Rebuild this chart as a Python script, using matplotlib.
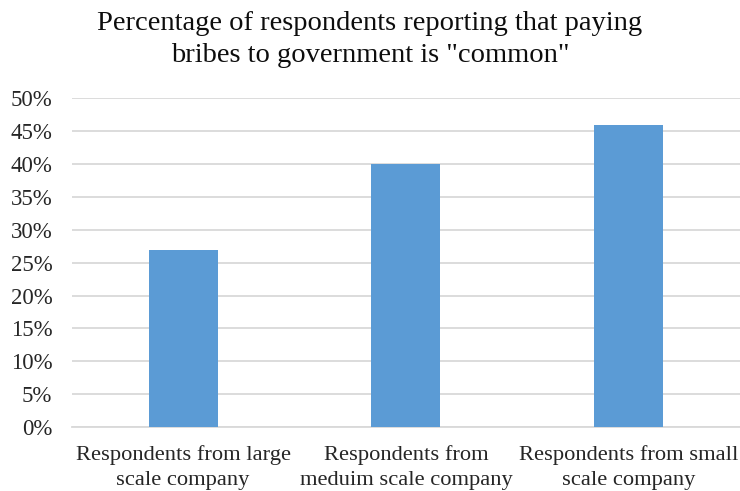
import matplotlib
matplotlib.use('Agg')
import matplotlib.pyplot as plt
from matplotlib.ticker import FuncFormatter, MultipleLocator

# 数据
categories = ['Respondents from large\nscale company',
              'Respondents from\nmeduim scale company',
              'Respondents from small\nscale company']
values = [0.27, 0.40, 0.46]
title = 'Percentage of respondents reporting that paying\nbribes to government is "common"'

plt.rcParams['font.family'] = ['Liberation Serif', 'DejaVu Serif']

fig = plt.figure(figsize=(7.4, 4.91), dpi=100)
ax = fig.add_axes([0.097, 0.130, 0.903, 0.670])

x = range(len(categories))
ax.bar(x, values, width=0.31, color='#5B9BD5', zorder=3)

ax.set_xlim(-0.5, len(categories) - 0.5)
ax.set_ylim(0, 0.5)
ax.yaxis.set_major_locator(MultipleLocator(0.05))
ax.yaxis.set_major_formatter(FuncFormatter(lambda v, _: f'{v * 100:.0f}%'))
ax.set_xticks(list(x))
ax.set_xticklabels(categories, fontsize=16.2, color='#262626', linespacing=1.4)
ax.tick_params(axis='y', labelsize=16.5, labelcolor='#262626', length=0, pad=14)
ax.tick_params(axis='x', length=0, pad=13)

ax.grid(axis='y', color='#d9d9d9', linewidth=1.3, zorder=0)
for s in ['top', 'right', 'left']:
    ax.spines[s].set_visible(False)
ax.spines['bottom'].set_color('#d9d9d9')
ax.spines['bottom'].set_linewidth(1.3)

fig.text(0.5, 0.978, title, ha='center', va='top', fontsize=20.5,
         color='#0d0d0d', linespacing=1.4)

fig.savefig('out.png', dpi=100)
